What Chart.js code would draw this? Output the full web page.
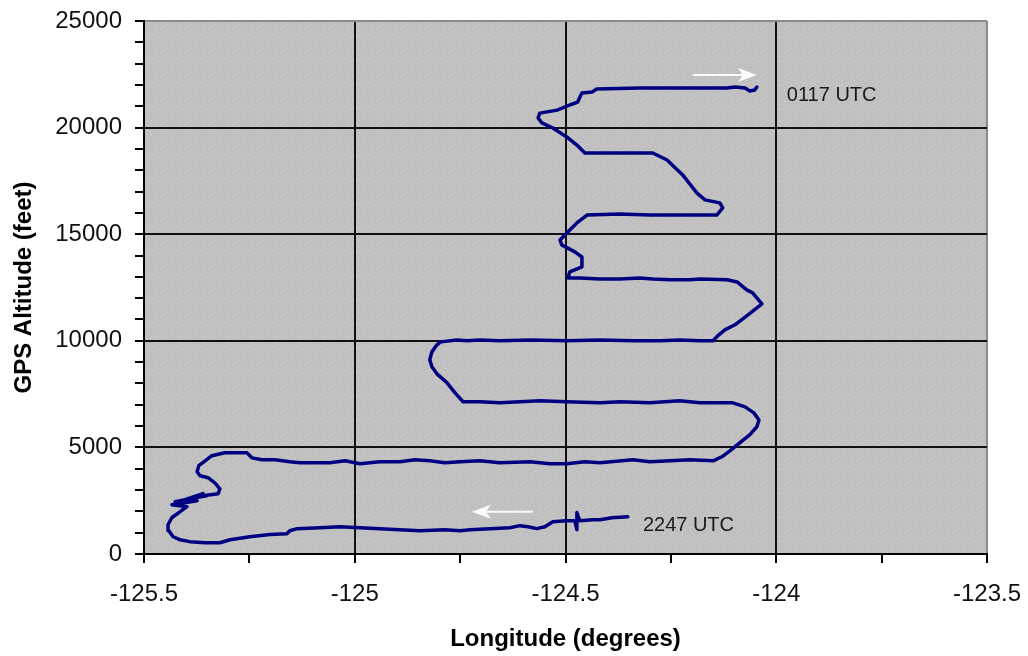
<!DOCTYPE html>
<html>
<head>
<meta charset="utf-8">
<title>GPS Altitude vs Longitude</title>
<script src="https://cdn.jsdelivr.net/npm/chart.js@4.4.1/dist/chart.umd.min.js"></script>
<style>
  html, body { margin: 0; padding: 0; background: #ffffff; }
  #wrap { width: 1028px; height: 656px; }
</style>
</head>
<body>
<div id="wrap"><canvas id="flight" width="1028" height="656"></canvas></div>
<script>
// Flight track, in time order from 2247 UTC to 0117 UTC
const longitude = [
  -124.352, -124.390, -124.418, -124.435, -124.466, -124.473, -124.473, -124.478, -124.499, -124.530,
  -124.549, -124.568, -124.589, -124.608, -124.632, -124.679, -124.727, -124.750, -124.786, -124.845,
  -124.893, -124.940, -124.988, -125.035, -125.083, -125.137, -125.154, -125.161, -125.201, -125.249,
  -125.296, -125.320, -125.355, -125.391, -125.415, -125.431, -125.441, -125.443, -125.434, -125.415,
  -125.398, -125.434, -125.374, -125.426, -125.367, -125.422, -125.360, -125.403, -125.351, -125.379,
  -125.324, -125.320, -125.332,
  -125.348, -125.367, -125.374, -125.370, -125.355, -125.339, -125.308, -125.256, -125.244, -125.220,
  -125.189, -125.154, -125.130, -125.059, -125.023, -124.988, -124.940, -124.893, -124.857, -124.822,
  -124.786, -124.750, -124.703, -124.656, -124.584, -124.537, -124.497, -124.454, -124.418, -124.340,
  -124.300, -124.252, -124.205, -124.150, -124.129, -124.110, -124.086, -124.063, -124.046, -124.041,
  -124.053, -124.074, -124.103, -124.181, -124.229, -124.300, -124.371, -124.418, -124.497, -124.561,
  -124.608, -124.656, -124.703, -124.743, -124.762, -124.781, -124.805, -124.817, -124.822, -124.817,
  -124.805, -124.796, -124.758, -124.734, -124.703, -124.656, -124.584, -124.497, -124.418, -124.340,
  -124.276, -124.229, -124.181, -124.150, -124.139, -124.122, -124.098, -124.067, -124.034, -124.056,
  -124.070, -124.093, -124.117, -124.181, -124.205, -124.252, -124.293, -124.324, -124.371, -124.418,
  -124.466, -124.494, -124.490, -124.461, -124.461, -124.478, -124.509, -124.513, -124.497, -124.473,
  -124.449, -124.371, -124.300, -124.141, -124.127, -124.134, -124.169, -124.188, -124.222, -124.259,
  -124.293, -124.454, -124.473, -124.497, -124.530, -124.556, -124.565, -124.561, -124.520, -124.490,
  -124.471, -124.466, -124.461, -124.437, -124.426, -124.324, -124.229, -124.117, -124.098, -124.074,
  -124.063, -124.051, -124.046
];

const altitude = [
  1750, 1700, 1610, 1610, 1560, 1940, 1140, 1560, 1560, 1510,
  1280, 1190, 1280, 1330, 1230, 1190, 1140, 1090, 1140, 1090,
  1140, 1190, 1230, 1280, 1230, 1190, 1090, 950, 910, 810,
  670, 530, 530, 580, 670, 810, 1090, 1370, 1700, 1980,
  2220, 2310, 2500, 2450, 2690, 2360, 2830, 2550, 2730, 2690,
  2830, 3060, 3340,
  3580, 3670, 3860, 4140, 4370, 4610, 4750, 4750, 4510, 4420,
  4420, 4330, 4280, 4280, 4370, 4230, 4330, 4330, 4420, 4370,
  4280, 4330, 4370, 4280, 4330, 4230, 4230, 4330, 4280, 4420,
  4330, 4370, 4420, 4370, 4560, 4840, 5220, 5590, 5970, 6290,
  6620, 6900, 7090, 7090, 7190, 7090, 7140, 7090, 7140, 7190,
  7140, 7090, 7140, 7140, 7560, 8030, 8450, 8780, 9110, 9480,
  9810, 9950, 10040, 10000, 10040, 10000, 10040, 10000, 10040, 10000,
  10000, 10040, 10000, 10000, 10230, 10510, 10750, 11220, 11730, 12250,
  12390, 12760, 12860, 12900, 12860, 12860, 12900, 12950, 12900, 12900,
  12950, 12950, 13230, 13470, 13930, 14170, 14500, 14730, 15060, 15530,
  15900, 15950, 15900, 15900, 16230, 16470, 16610, 16930, 17780, 18480,
  18810, 18810, 19180, 19560, 19980, 20220, 20450, 20680, 20820, 21060,
  21200, 21430, 21620, 21670, 21810, 21860, 21860, 21860, 21900, 21860,
  21720, 21760, 21900
];

// Axis ranges and steps
const lonRange = [-125.5, -123.5];
const lonMajor = 0.5;
const lonMinor = 0.25;
const altRange = [0, 25000];
const altMajor = 5000;
const altMinor = 1000;

// Time stamps at the two ends of the track
const startLabel = '2247 UTC';
const endLabel = '0117 UTC';

const FONT = "'Liberation Sans', Arial, Helvetica, sans-serif";

function isMajor(v, step) {
  const r = v / step;
  return Math.abs(r - Math.round(r)) < 1e-6;
}

// Speckled grey fill for the plot area
function makeSpeckle(ctx) {
  const tile = document.createElement('canvas');
  tile.width = 12; tile.height = 12;
  const t = tile.getContext('2d');
  t.fillStyle = '#c0c0c0';
  t.fillRect(0, 0, 12, 12);
  t.fillStyle = '#d2d2d2';
  [[1, 1], [7, 2], [4, 5], [10, 6], [2, 8], [8, 10], [5, 11], [11, 0]].forEach(([x, y]) => t.fillRect(x, y, 1, 1));
  return ctx.createPattern(tile, 'repeat');
}

const plotBackground = {
  id: 'plotBackground',
  beforeDraw(chart) {
    const { ctx, chartArea: a } = chart;
    ctx.save();
    ctx.fillStyle = makeSpeckle(ctx);
    ctx.fillRect(a.left, a.top, a.right - a.left, a.bottom - a.top);
    ctx.restore();
  }
};

// White direction arrows and time stamps at the track ends
function drawArrow(ctx, x0, y, x1) {
  const dir = Math.sign(x1 - x0);
  ctx.strokeStyle = 'rgba(255,255,255,0.92)';
  ctx.fillStyle = 'rgba(255,255,255,0.95)';
  ctx.lineWidth = 2;
  ctx.beginPath();
  ctx.moveTo(x0, y);
  ctx.lineTo(x1 - dir * 12, y);
  ctx.stroke();
  ctx.beginPath();
  ctx.moveTo(x1, y);
  ctx.lineTo(x1 - dir * 19, y - 7);
  ctx.lineTo(x1 - dir * 14, y);
  ctx.lineTo(x1 - dir * 19, y + 7);
  ctx.closePath();
  ctx.fill();
}

const trackNotes = {
  id: 'trackNotes',
  afterDatasetsDraw(chart) {
    const { ctx, scales: { x, y } } = chart;
    const n = longitude.length - 1;
    const sx = x.getPixelForValue(longitude[0]);
    const sy = y.getPixelForValue(altitude[0]);
    const ex = x.getPixelForValue(longitude[n]);
    const ey = y.getPixelForValue(altitude[n]);
    ctx.save();
    drawArrow(ctx, sx - 95, sy - 5, sx - 156);
    drawArrow(ctx, ex - 64, ey - 12, ex);
    ctx.fillStyle = '#1a1a1a';
    ctx.font = '20px ' + FONT;
    ctx.textBaseline = 'middle';
    ctx.textAlign = 'left';
    ctx.fillText(startLabel, sx + 15, sy + 9);
    ctx.fillText(endLabel, ex + 30, ey + 8);
    ctx.restore();
  }
};

new Chart(document.getElementById('flight'), {
  type: 'scatter',
  data: {
    datasets: [{
      data: longitude.map((lon, i) => ({ x: lon, y: altitude[i] })),
      showLine: true,
      borderColor: '#000080',
      borderWidth: 3.5,
      borderJoinStyle: 'round',
      borderCapStyle: 'round',
      pointRadius: 0,
      tension: 0,
      fill: false
    }]
  },
  options: {
    responsive: false,
    animation: false,
    events: [],
    layout: { padding: { left: 0, right: 41, top: 21, bottom: 0 } },
    plugins: { legend: { display: false }, tooltip: { enabled: false } },
    scales: {
      x: {
        type: 'linear',
        min: lonRange[0],
        max: lonRange[1],
        afterFit(s) {
          s.height = 102;
          s.paddingLeft = 0;
          s.paddingRight = 0;
        },
        border: { display: true, color: '#000', width: 2 },
        grid: {
          color: c => {
            const v = c.tick ? c.tick.value : 0;
            if (!isMajor(v, lonMajor)) return 'rgba(0,0,0,0)';
            return Math.abs(v - lonRange[1]) < 1e-6 ? '#8a8a8a' : '#111';
          },
          lineWidth: 2,
          tickColor: '#000',
          tickLength: 9,
          drawTicks: true
        },
        ticks: {
          stepSize: lonMinor,
          autoSkip: false,
          maxRotation: 0,
          padding: 17,
          color: '#111',
          font: { family: FONT, size: 24 },
          callback: v => isMajor(v, lonMajor) ? String(Math.round(v / lonMajor) * lonMajor) : ''
        },
        title: {
          display: true,
          text: 'Longitude (degrees)',
          color: '#000',
          font: { family: FONT, size: 24, weight: 'bold' },
          padding: { top: 0, bottom: 2 }
        }
      },
      y: {
        type: 'linear',
        min: altRange[0],
        max: altRange[1],
        afterFit(s) {
          s.width = 144;
          s.paddingTop = 0;
          s.paddingBottom = 0;
        },
        border: { display: true, color: '#000', width: 2 },
        grid: {
          color: c => {
            const v = c.tick ? c.tick.value : 0;
            if (!isMajor(v, altMajor)) return 'rgba(0,0,0,0)';
            return v === altRange[1] ? '#8a8a8a' : '#111';
          },
          lineWidth: 2,
          tickColor: '#000',
          tickLength: 9,
          drawTicks: true
        },
        ticks: {
          stepSize: altMinor,
          autoSkip: false,
          padding: 13,
          color: '#111',
          font: { family: FONT, size: 24 },
          callback: v => isMajor(v, altMajor) ? String(v) : ''
        },
        title: {
          display: true,
          text: 'GPS Altitude (feet)',
          color: '#000',
          font: { family: FONT, size: 24, weight: 'bold' },
          padding: { top: 10, bottom: 0 }
        }
      }
    }
  },
  plugins: [plotBackground, trackNotes]
});
</script>
</body>
</html>
